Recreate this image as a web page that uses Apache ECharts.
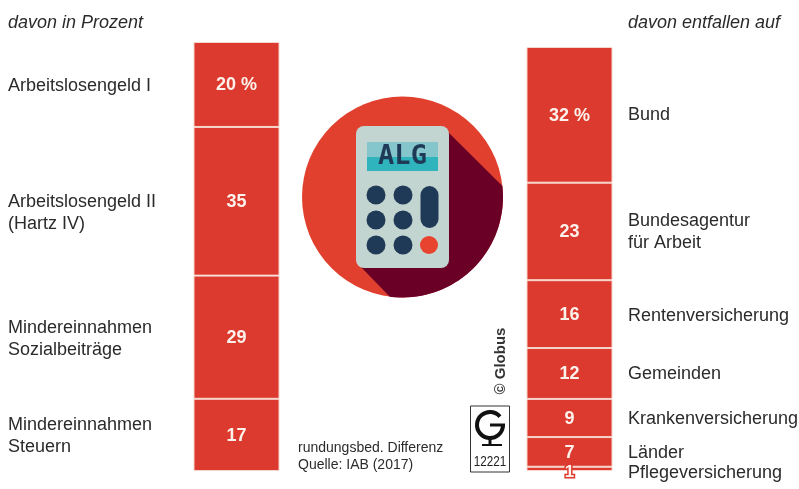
<!DOCTYPE html>
<html lang="de">
<head>
<meta charset="utf-8">
<title>Arbeitslosigkeit: Kosten und Träger</title>
<style>html,body{margin:0;padding:0;background:#fff}#chart{width:799px;height:489px}</style>
<script src="https://cdn.jsdelivr.net/npm/echarts@6/dist/echarts.min.js"></script>
</head>
<body>
<div id="chart"></div>
<script>
// Kostenarten, linke Säule
const costNames = ['Arbeitslosengeld I', 'Arbeitslosengeld II\n(Hartz IV)', 'Mindereinnahmen\nSozialbeiträge', 'Mindereinnahmen\nSteuern'];
const costValues = [20, 35, 29, 17];

// Kostenträger, rechte Säule
const payerNames = ['Bund', 'Bundesagentur\nfür Arbeit', 'Rentenversicherung', 'Gemeinden', 'Krankenversicherung', 'Länder', 'Pflegeversicherung'];
const payerValues = [32, 23, 16, 12, 9, 7, 1];

// Vertikale Mitte der Beschriftungen neben den Säulen
const costLabelY = [86, 213, 339, 436];
const payerLabelY = [115, 232, 316, 374, 419, 453, 473];

const RED = '#dc3a2e';
const TEXT = '#2b2b2b';
const FONT = '"Liberation Sans", Arial, sans-serif';

function stackSeries(names, values, index) {
  return values.map((v, i) => ({
    type: 'bar',
    name: names[i],
    stack: 'total' + index,
    xAxisIndex: index,
    yAxisIndex: index,
    barWidth: '100%',
    data: [v],
    silent: true,
    itemStyle: { color: RED, borderColor: '#f6d5cc', borderWidth: 1 },
    label: {
      show: true,
      position: 'inside',
      offset: [0, v === 1 ? 3 : 1],
      formatter: i === 0 ? v + ' %' : String(v),
      color: '#fdf1ec',
      fontFamily: FONT,
      fontWeight: 'bold',
      fontSize: v === 1 ? 17 : 18,
      textBorderColor: v === 1 ? RED : 'transparent',
      textBorderWidth: v === 1 ? 3 : 0
    }
  }));
}

function sideText(x, y, text, extra) {
  return {
    type: 'text', x, y, silent: true,
    style: Object.assign({
      text, fill: TEXT, font: '18px ' + FONT,
      verticalAlign: 'middle', lineHeight: 22
    }, extra || {})
  };
}

// Runde Plakette mit Taschenrechner
const cx = 402.5, cy = 197, r = 100.5;
const keyX = [376, 403], keyY = [195, 220, 245];
const keys = [];
keyY.forEach(y => keyX.forEach(x => keys.push({
  type: 'circle', silent: true, shape: { cx: x, cy: y, r: 9.5 }, style: { fill: '#1f3a57' }
})));

// Schlagschatten: Kante vom Gehäuse zum Kreisrand, dann dem Bogen entlang
const shadowStart = Math.atan2(186 - cy, 502 - cx);
const shadowEnd = Math.atan2(295 - cy, 390 - cx);
const shadowPoints = [[446, 130]];
for (let k = 0; k <= 40; k++) {
  const a = shadowStart + (shadowEnd - shadowStart) * k / 40;
  shadowPoints.push([cx + r * Math.cos(a), cy + r * Math.sin(a)]);
}
shadowPoints.push([358, 264]);

const badge = [
  { type: 'circle', silent: true, shape: { cx, cy, r }, style: { fill: '#e2402f' } },
  { type: 'polygon', silent: true, shape: { points: shadowPoints }, style: { fill: '#6b0027' } },
  { type: 'rect', silent: true, shape: { x: 356, y: 126, width: 93, height: 142, r: 8 }, style: { fill: '#c3d5d0' } },
  { type: 'rect', silent: true, shape: { x: 367, y: 142, width: 71, height: 15 }, style: { fill: '#85c6cc' } },
  { type: 'rect', silent: true, shape: { x: 367, y: 157, width: 71, height: 14 }, style: { fill: '#2fb4bd' } },
  { type: 'text', silent: true, x: 402.5, y: 157, style: { text: 'ALG', fill: '#1f3a57', font: 'bold 27px "DejaVu Sans Mono", monospace', align: 'center', verticalAlign: 'middle' } },
  ...keys,
  { type: 'rect', silent: true, shape: { x: 420.5, y: 186, width: 18, height: 42, r: 9 }, style: { fill: '#1f3a57' } },
  { type: 'circle', silent: true, shape: { cx: 429, cy: 245, r: 9 }, style: { fill: '#e8432e' } }
];

// Signet der Agentur
const logo = [
  { type: 'rect', silent: true, shape: { x: 470.5, y: 406, width: 39, height: 66 }, style: { fill: '#fff', stroke: '#333', lineWidth: 1 } },
  { type: 'arc', silent: true, shape: { cx: 490, cy: 425, r: 13, startAngle: -0.7, endAngle: 0, clockwise: false }, style: { stroke: '#111', lineWidth: 4, fill: 'none' } },
  { type: 'line', silent: true, shape: { x1: 490, y1: 425, x2: 505, y2: 425 }, style: { stroke: '#111', lineWidth: 3 } },
  { type: 'line', silent: true, shape: { x1: 490, y1: 438, x2: 490, y2: 444 }, style: { stroke: '#111', lineWidth: 3 } },
  { type: 'line', silent: true, shape: { x1: 482, y1: 445, x2: 502, y2: 445 }, style: { stroke: '#111', lineWidth: 2 } },
  { type: 'text', silent: true, x: 490, y: 462, scaleX: 0.78, style: { text: '12221', fill: '#222', font: '15px ' + FONT, align: 'center', verticalAlign: 'middle' } },
  { type: 'text', silent: true, x: 501, y: 361, rotation: Math.PI / 2, style: { text: '© Globus', fill: '#333', font: 'bold 15px ' + FONT, align: 'center', verticalAlign: 'middle' } }
];

const texts = [
  sideText(8, 23, 'davon in Prozent', { font: 'italic 18px ' + FONT }),
  sideText(628, 23, 'davon entfallen auf', { font: 'italic 18px ' + FONT }),
  ...costNames.map((t, i) => sideText(8, costLabelY[i], t)),
  ...payerNames.map((t, i) => sideText(628, payerLabelY[i], t)),
  sideText(298, 457, 'rundungsbed. Differenz\nQuelle: IAB (2017)', { font: '14px ' + FONT, lineHeight: 17 })
];

const chart = echarts.init(document.getElementById('chart'), null, { renderer: 'canvas' });
chart.setOption({
  animation: false,
  backgroundColor: '#ffffff',
  grid: [
    { left: 193.5, top: 42, width: 86, height: 429 },
    { left: 526.5, top: 47, width: 86, height: 424 }
  ],
  xAxis: [
    { type: 'category', gridIndex: 0, data: ['Kosten'], show: false },
    { type: 'category', gridIndex: 1, data: ['Träger'], show: false }
  ],
  yAxis: [
    { type: 'value', gridIndex: 0, inverse: true, min: 0, max: 101, show: false },
    { type: 'value', gridIndex: 1, inverse: true, min: 0, max: 100, show: false }
  ],
  series: [...stackSeries(costNames, costValues, 0), ...stackSeries(payerNames, payerValues, 1)],
  graphic: { elements: [...badge, ...logo, ...texts] }
});
</script>
</body>
</html>
